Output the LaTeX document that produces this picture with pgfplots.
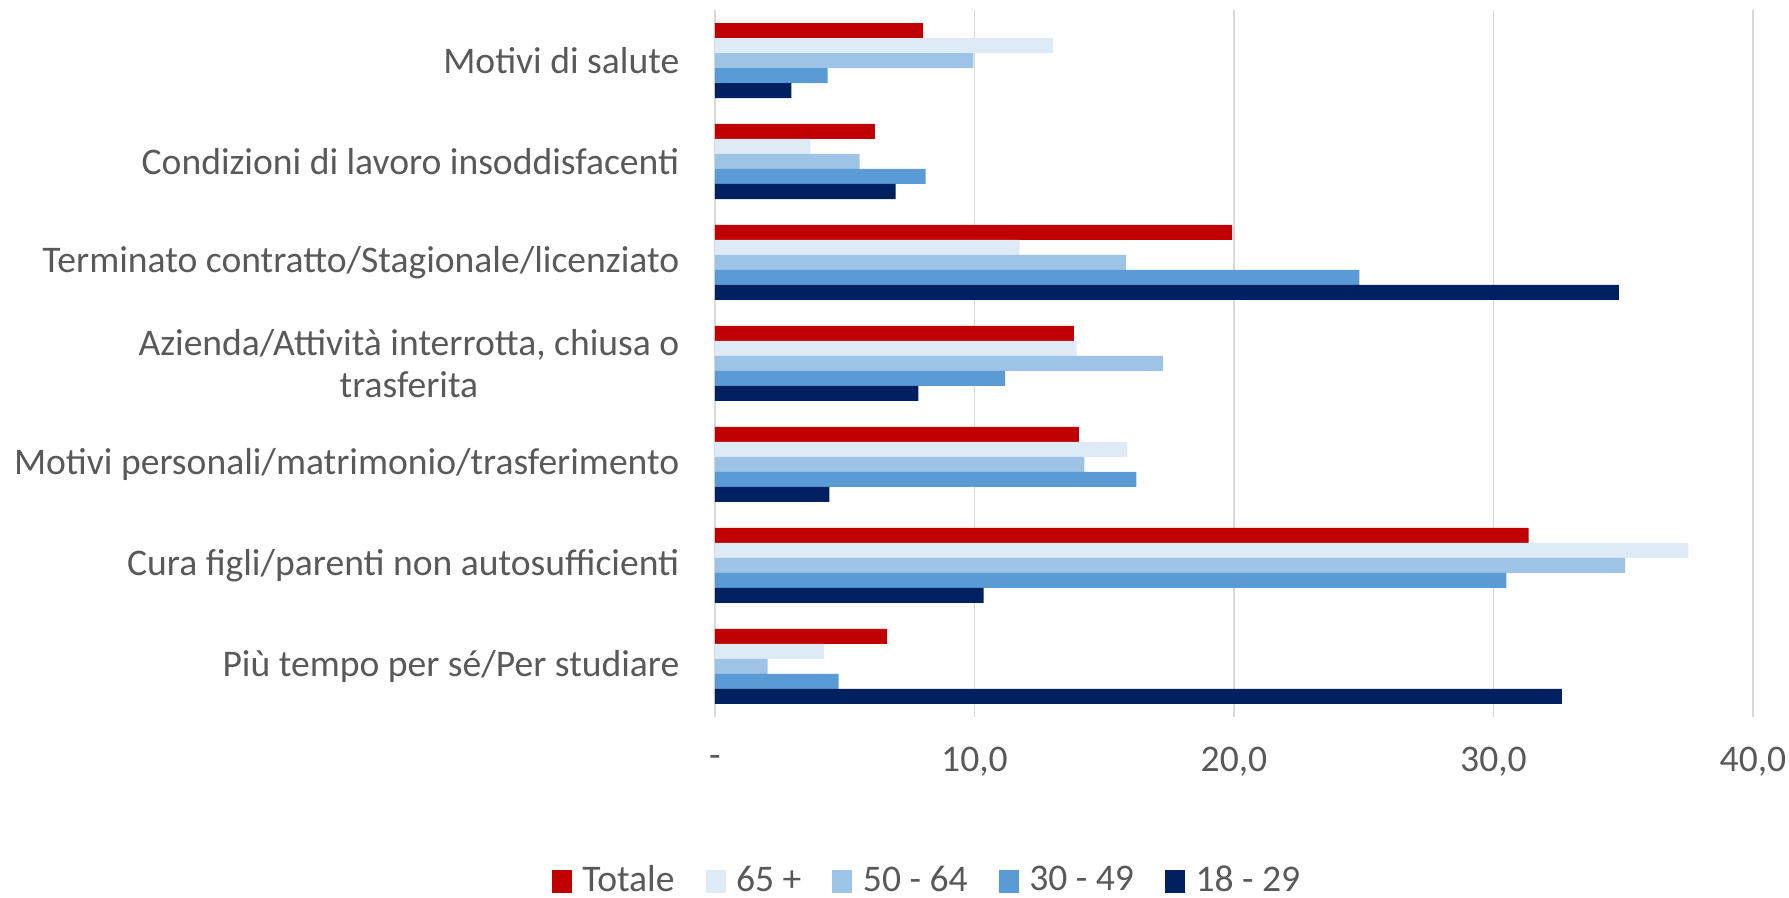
\documentclass[border=0pt]{standalone}
\usepackage{pgfplots}
\pgfplotsset{compat=1.18}
\usepackage{fontspec}
\setmainfont{Carlito}
\definecolor{cTot}{HTML}{C00000}
\definecolor{c65}{HTML}{DEEAF6}
\definecolor{c50}{HTML}{9DC3E6}
\definecolor{c30}{HTML}{5B9BD5}
\definecolor{c18}{HTML}{002060}
\definecolor{txt}{HTML}{595959}
\definecolor{grd}{HTML}{D9D9D9}
\begin{document}
\begin{tikzpicture}
\useasboundingbox (-71.5mm,-18.1mm) rectangle (107.4mm,71.7mm);
\begin{axis}[
  at={(0,0)}, anchor=south west,
  scale only axis,
  width=103.8mm, height=70.7mm,
  xmin=0, xmax=40, ymin=-0.5, ymax=6.5,
  xbar, bar width=1.5mm,
  axis line style={draw=none},
  major tick length=0pt,
  xmajorgrids, major grid style={draw=grd, line width=0.35pt},
  xtick={0,10,20,30,40},
  xticklabels={{-},{10,0},{20,0},{30,0},{40,0}},
  xticklabel style={font=\fontsize{10.7}{12}\selectfont, text=txt, anchor=center, yshift=-4.5mm},
  ytick={0,1,2,3,4,5,6},
  yticklabels={{Più tempo per sé/Per studiare},{Cura figli/parenti non autosufficienti},{Motivi personali/matrimonio/trasferimento},{Azienda/Attività interrotta, chiusa o\\trasferita},{Terminato contratto/Stagionale/licenziato},{Condizioni di lavoro insoddisfacenti},{Motivi di salute}},
  yticklabel style={font=\fontsize{10.7}{12}\selectfont, text=txt, align=center, anchor=east, inner sep=0pt, xshift=-3.5mm},
  legend style={at={(0.205,-0.232)}, anchor=center, draw=none, fill=none,
    font=\fontsize{10.7}{12}\selectfont, text=txt, legend columns=-1,
    nodes={inner sep=1pt},
    /tikz/every even column/.append style={column sep=2.75mm}},
  legend image code/.code={\fill[#1] (0mm,-1.15mm) rectangle (2mm,1.15mm); \path (2.7mm,0mm);},
]
\addplot[fill=cTot, draw=none, bar shift=3mm] coordinates {(8.02,6) (6.16,5) (19.93,4) (13.83,3) (14.02,2) (31.35,1) (6.63,0)};
\addplot[fill=c65, draw=none, bar shift=1.5mm] coordinates {(13.03,6) (3.68,5) (11.74,4) (13.94,3) (15.89,2) (37.51,1) (4.20,0)};
\addplot[fill=c50, draw=none, bar shift=0mm] coordinates {(9.96,6) (5.57,5) (15.84,4) (17.26,3) (14.23,2) (35.07,1) (2.03,0)};
\addplot[fill=c30, draw=none, bar shift=-1.5mm] coordinates {(4.34,6) (8.12,5) (24.83,4) (11.18,3) (16.24,2) (30.50,1) (4.76,0)};
\addplot[fill=c18, draw=none, bar shift=-3mm] coordinates {(2.94,6) (6.96,5) (34.83,4) (7.84,3) (4.41,2) (10.35,1) (32.64,0)};
\legend{Totale, 65 +, 50 - 64, 30 - 49, 18 - 29}
\end{axis}
\end{tikzpicture}
\end{document}
